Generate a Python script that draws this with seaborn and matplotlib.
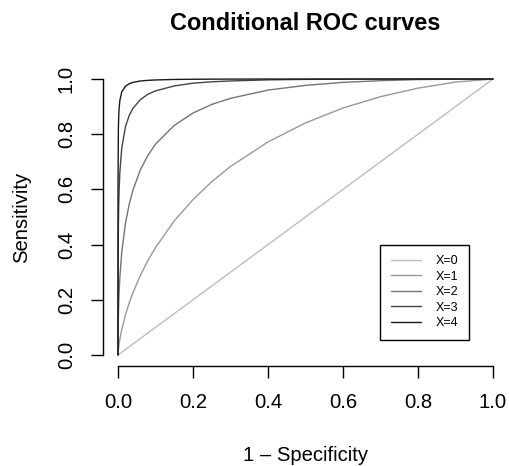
import matplotlib
matplotlib.use("Agg")
import matplotlib.pyplot as plt
import seaborn as sns
import pandas as pd

# ---- data ----
fpr = [0, 1e-5, 1e-4, 0.001, 0.002, 0.003, 0.005, 0.01, 0.02, 0.03, 0.04, 0.06, 0.08,
       0.1, 0.15, 0.2, 0.25, 0.3, 0.4, 0.5, 0.6, 0.7, 0.8, 0.9, 1.0]
tpr_x0 = [0, 1e-5, 1e-4, 0.001, 0.002, 0.003, 0.005, 0.01, 0.02, 0.03, 0.04, 0.06, 0.08,
          0.1, 0.15, 0.2, 0.25, 0.3, 0.4, 0.5, 0.6, 0.7, 0.8, 0.9, 1.0]
tpr_x1 = [0, 0.0006, 0.0033, 0.0183, 0.030, 0.040, 0.0575, 0.0924, 0.146, 0.189, 0.226,
          0.289, 0.343, 0.389, 0.486, 0.563, 0.628, 0.683, 0.772, 0.841, 0.895, 0.936,
          0.967, 0.989, 1.0]
tpr_x2 = [0, 0.012, 0.043, 0.138, 0.190, 0.227, 0.282, 0.372, 0.478, 0.547, 0.598, 0.672,
          0.724, 0.764, 0.832, 0.877, 0.908, 0.930, 0.960, 0.977, 0.988, 0.994, 0.998,
          0.9995, 1.0]
tpr_x3 = [0, 0.103, 0.236, 0.464, 0.549, 0.600, 0.664, 0.750, 0.828, 0.868, 0.894, 0.926,
          0.945, 0.957, 0.975, 0.985, 0.990, 0.993, 0.997, 0.9987, 0.9994, 0.9998, 0.9999,
          1.0, 1.0]
tpr_x4 = [0, 0.395, 0.611, 0.819, 0.869, 0.895, 0.923, 0.953, 0.974, 0.983, 0.988, 0.993,
          0.9953, 0.9967, 0.9985, 0.9992, 0.9996, 0.9998, 1.0, 1.0, 1.0, 1.0, 1.0, 1.0, 1.0]
labels = ["X=0", "X=1", "X=2", "X=3", "X=4"]
series = [tpr_x0, tpr_x1, tpr_x2, tpr_x3, tpr_x4]
tick_vals = [0.0, 0.2, 0.4, 0.6, 0.8, 1.0]
tick_labels = ["0.0", "0.2", "0.4", "0.6", "0.8", "1.0"]
colors = ["#BDBDBD", "#999999", "#757575", "#444444", "#1A1A1A"]

rows = []
for lab, tp in zip(labels, series):
    for f, t in zip(fpr, tp):
        rows.append({"fpr": f, "tpr": t, "group": lab})
df = pd.DataFrame(rows)

sns.set_style("white")
plt.rcParams["font.family"] = ["Liberation Sans", "DejaVu Sans"]
plt.rcParams["text.color"] = "black"
plt.rcParams["axes.labelcolor"] = "black"
plt.rcParams["xtick.color"] = "black"
plt.rcParams["ytick.color"] = "black"

W, H = 509, 466
fig = plt.figure(figsize=(W / 100, H / 100), dpi=100)
ax = fig.add_axes([103 / W, 1 - 366 / H, 405 / W, 298 / H])

sns.lineplot(data=df, x="fpr", y="tpr", hue="group", palette=colors,
             sort=False, estimator=None, linewidth=1.0, ax=ax)

ax.set_xlim(-0.04, 1.04)
ax.set_ylim(-0.04, 1.04)
for s in ["top", "right"]:
    ax.spines[s].set_visible(False)
for s in ["left", "bottom"]:
    ax.spines[s].set_visible(True)
    ax.spines[s].set_color("black")
    ax.spines[s].set_linewidth(1.0)
    ax.spines[s].set_bounds(0, 1)

ax.set_xticks(tick_vals)
ax.set_xticklabels(tick_labels)
ax.set_yticks(tick_vals)
ax.set_yticklabels(tick_labels)
ax.tick_params(axis="both", direction="out", length=8.5, width=1.0, color="black",
               labelsize=14.6, labelcolor="black", pad=11)
ax.tick_params(axis="x", bottom=True)
ax.tick_params(axis="y", left=True, labelrotation=90)
for t in ax.get_yticklabels():
    t.set_va("center")

ax.set_xlabel("1 \u2013 Specificity", fontsize=14.6, color="black")
ax.set_ylabel("Sensitivity", fontsize=14.6, color="black")
ax.xaxis.label.set_va("center")
ax.yaxis.label.set_va("center")
ax.xaxis.set_label_coords(0.5, -0.299)
ax.yaxis.set_label_coords(-0.20, 0.5)

ax.set_title("Conditional ROC curves", fontsize=16.9, fontweight="bold",
             y=1.148, va="center", pad=0, color="black")

leg = ax.legend(loc="upper left", bbox_to_anchor=(0.70, 0.40), bbox_transform=ax.transData,
                fontsize=9.0, frameon=True, fancybox=False, borderaxespad=0,
                borderpad=0.85, labelspacing=0.28, handlelength=2.4, handletextpad=1.2,
                title=None, labelcolor="black")
leg.get_frame().set_edgecolor("black")
leg.get_frame().set_linewidth(1.0)
leg.get_frame().set_alpha(1)

fig.savefig("out.png", dpi=100, facecolor="white")
